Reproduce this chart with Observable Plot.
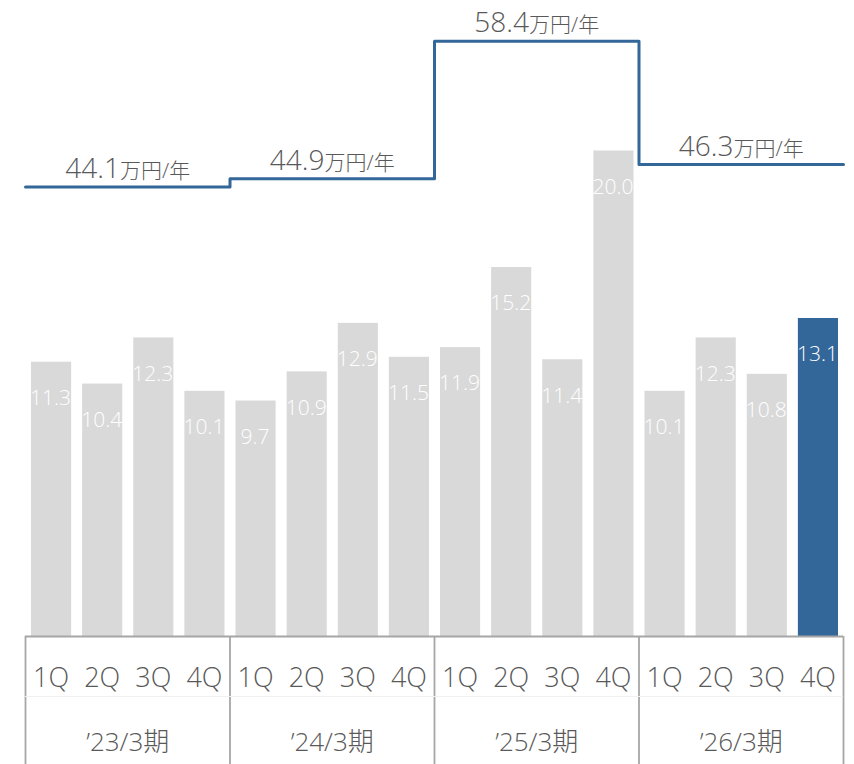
<!DOCTYPE html>
<html>
<head>
<meta charset="utf-8">
<script src="https://cdn.jsdelivr.net/npm/d3@7"></script>
<script src="https://cdn.jsdelivr.net/npm/@observablehq/plot@0.6"></script>
<style>
  html, body { margin: 0; padding: 0; background: #fff; }
  #chart svg { display: block; }
</style>
</head>
<body>
<div id="chart"></div>
<script>
// ---- data ----
const fiscalYears = ["’23/3期", "’24/3期", "’25/3期", "’26/3期"];
const quarterNames = ["1Q", "2Q", "3Q", "4Q"];
const quarterValues = [
  11.3, 10.4, 12.3, 10.1,
  9.7, 10.9, 12.9, 11.5,
  11.9, 15.2, 11.4, 20.0,
  10.1, 12.3, 10.8, 13.1
];
const annualValues = [44.1, 44.9, 58.4, 46.3];
const annualUnit = "万円/年";
const highlightIndex = 15;

// scales: primary (quarterly) and secondary (annual) axis maxima
const yMax = 26.2;
const y2Max = 62.4;
const ratio = yMax / y2Max;

const bars = quarterValues.map((v, i) => ({
  i, v,
  q: quarterNames[i % 4],
  hi: i === highlightIndex
}));
const years = fiscalYears.map((name, k) => ({ k, name, v: annualValues[k] }));
const stepPts = annualValues.map((v, k) => ({ x: k * 4, v }))
  .concat([{ x: fiscalYears.length * 4, v: annualValues[annualValues.length - 1] }]);
const boundaries = d3.range(0, fiscalYears.length + 1).map(k => k * 4);

const FONT = "'Segoe UI', 'Open Sans', 'Noto Sans CJK JP', sans-serif";
const GRAY = "#595959";
const BLUE = "#336699";
const FRAME = "#a6a6a6";

const chart = Plot.plot({
  width: 854,
  height: 764,
  marginLeft: 25,
  marginRight: 11,
  marginTop: 0,
  marginBottom: 128,
  style: { fontFamily: FONT, background: "#fff" },
  x: { domain: [0, quarterValues.length], axis: null, label: null },
  y: { domain: [0, yMax], axis: null },
  marks: [
    Plot.rectY(bars, {
      x1: d => d.i, x2: d => d.i + 1, y: "v",
      insetLeft: 6, insetRight: 5,
      fill: d => d.hi ? BLUE : "#d9d9d9"
    }),
    Plot.text(bars, {
      x: d => d.i + 0.5, y: "v", dy: 36, dx: -0.5,
      text: d => d.v.toFixed(1),
      fill: "#fff", fontSize: 21, fontWeight: 300
    }),
    // table frame
    Plot.ruleY([0], { stroke: FRAME, strokeWidth: 1.8 }),
    Plot.axisX({
      ticks: boundaries, tickSize: 128, tickFormat: () => "", label: null,
      stroke: FRAME, strokeWidth: 1.8, strokeOpacity: 1
    }),
    Plot.ruleY([0], { stroke: "#f0f0f0", strokeWidth: 1, dy: 60 }),
    // quarter labels
    Plot.text(bars, {
      x: d => d.i + 0.5, y: 0, dy: 42,
      text: "q", fill: GRAY, fontSize: 27, fontWeight: 300
    }),
    // fiscal year labels
    Plot.text(years, {
      x: d => d.k * 4 + 2, y: 0, dy: 106,
      text: "name", fill: GRAY, fontSize: 26, fontWeight: 300
    }),
    // annual step line (secondary axis)
    Plot.line(stepPts, {
      x: "x", y: d => d.v * ratio,
      curve: "step-after",
      stroke: BLUE, strokeWidth: 3
    }),
    Plot.text(years, {
      x: d => d.k * 4 + 2, y: d => d.v * ratio, dy: -9,
      lineAnchor: "bottom",
      text: d => d.v.toFixed(1) + annualUnit,
      fill: GRAY, fontSize: 28, fontWeight: 300
    })
  ]
});

// split annual labels into number + smaller unit
chart.querySelectorAll("text").forEach(t => {
  const s = t.textContent;
  if (s.endsWith(annualUnit)) {
    const num = s.slice(0, s.length - annualUnit.length);
    t.textContent = "";
    const a = document.createElementNS("http://www.w3.org/2000/svg", "tspan");
    a.textContent = num;
    a.setAttribute("font-size", 28);
    const b = document.createElementNS("http://www.w3.org/2000/svg", "tspan");
    b.textContent = annualUnit;
    b.setAttribute("font-size", 21);
    t.appendChild(a);
    t.appendChild(b);
  }
});

document.getElementById("chart").appendChild(chart);
</script>
</body>
</html>
